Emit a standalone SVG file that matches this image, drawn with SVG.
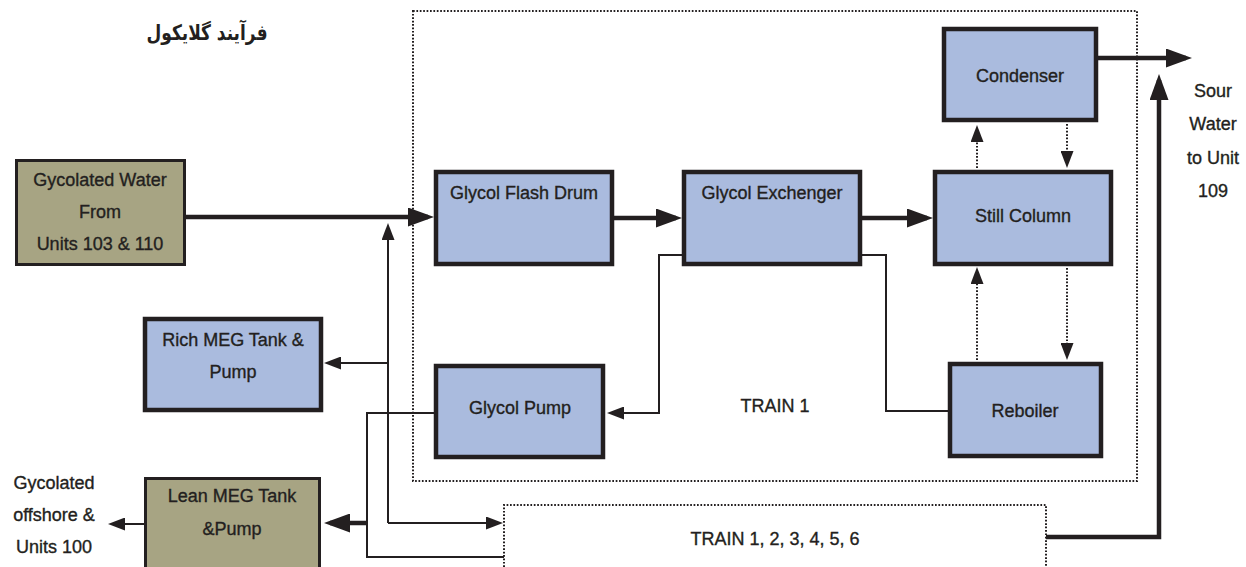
<svg xmlns="http://www.w3.org/2000/svg" width="1246" height="567" viewBox="0 0 1246 567">
<style>
.t{font-family:"Liberation Sans",Arial,sans-serif;font-size:18px;fill:#231f20;text-anchor:middle;stroke:#231f20;stroke-width:0.35}
.fa{font-family:"DejaVu Sans","Noto Sans",sans-serif;font-size:17px;font-weight:bold;fill:#231f20;text-anchor:middle}
.blue{fill:#aabbde;stroke:#231f20;stroke-width:4.5}
.olive{fill:#a7a483;stroke:#231f20;stroke-width:3}
.thick{fill:none;stroke:#231f20;stroke-width:4.5}
.thin{fill:none;stroke:#231f20;stroke-width:2}
.dot{fill:none;stroke:#231f20;stroke-width:2;stroke-dasharray:1.7 1.7}
</style>
<defs>
<marker id="ah" markerUnits="userSpaceOnUse" viewBox="0 0 26 19" markerWidth="26" markerHeight="19" refX="20" refY="9.5" orient="auto">
<path d="M0,0 L26,9.5 L0,19 z" fill="#231f20"/>
</marker>
<marker id="as" markerUnits="userSpaceOnUse" viewBox="0 0 17 13" markerWidth="17" markerHeight="13" refX="14" refY="6.5" orient="auto">
<path d="M0,0 L17,6.5 L0,13 z" fill="#231f20"/>
</marker>
</defs>

<text class="fa" transform="translate(207,40) scale(1,1.25)">فرآیند گلایکول</text>

<g id="train1-box">
<rect class="dot" x="413" y="11" width="724" height="470"/>
<text class="t" x="775" y="412">TRAIN 1</text>
</g>
<g id="trains-box">
<path class="dot" d="M504,567 V505 H1046 V567"/>
<text class="t" x="775" y="545">TRAIN 1, 2, 3, 4, 5, 6</text>
</g>

<g id="connectors">
<path class="thick" d="M186,217 H428" marker-end="url(#ah)"/>
<path class="thick" d="M614,218 H676" marker-end="url(#ah)"/>
<path class="thick" d="M862,218 H927" marker-end="url(#ah)"/>
<path class="thick" d="M1098,58 H1186" marker-end="url(#ah)"/>
<path class="thick" d="M1046,537 H1159 V80" marker-end="url(#ah)"/>
<path class="thick" d="M367,523 H330" marker-end="url(#ah)"/>
<path class="thin" d="M682,255 H659 V413 H610" marker-end="url(#as)"/>
<path class="thin" d="M862,255 H886 V411 H948"/>
<path class="thin" d="M434,413 H367 V557 H504"/>
<path class="thin" d="M388,523 V226" marker-end="url(#as)"/>
<path class="thin" d="M388,523 H500" marker-end="url(#as)"/>
<path class="thin" d="M388,363 H327" marker-end="url(#as)"/>
<path class="thin" d="M144,524 H111" marker-end="url(#as)"/>
<path class="dot" d="M977,168 V128" marker-end="url(#as)"/>
<path class="dot" d="M1067,124 V165" marker-end="url(#as)"/>
<path class="dot" d="M977,360 V270" marker-end="url(#as)"/>
<path class="dot" d="M1067,268 V357" marker-end="url(#as)"/>
</g>

<g id="gycolated-water">
<rect class="olive" x="16.5" y="160.5" width="168" height="104"/>
<text class="t" x="100" y="186">Gycolated Water</text>
<text class="t" x="100" y="218">From</text>
<text class="t" x="100" y="250">Units 103 &amp; 110</text>
</g>
<g id="rich-meg">
<rect class="blue" x="145" y="319" width="176" height="91"/>
<text class="t" x="233" y="346">Rich MEG Tank &amp;</text>
<text class="t" x="233" y="378">Pump</text>
</g>
<g id="lean-meg">
<rect class="olive" x="145.5" y="478.5" width="174" height="100"/>
<text class="t" x="232" y="502">Lean MEG Tank</text>
<text class="t" x="232" y="535">&amp;Pump</text>
</g>
<g id="gycolated-offshore">
<text class="t" x="54" y="489">Gycolated</text>
<text class="t" x="54" y="521">offshore &amp;</text>
<text class="t" x="54" y="553">Units 100</text>
</g>
<g id="flash-drum">
<rect class="blue" x="436" y="172" width="176" height="92"/>
<text class="t" x="524" y="199">Glycol Flash Drum</text>
</g>
<g id="exchenger">
<rect class="blue" x="684" y="172" width="176" height="92"/>
<text class="t" x="772" y="199">Glycol Exchenger</text>
</g>
<g id="glycol-pump">
<rect class="blue" x="436" y="366" width="167" height="91"/>
<text class="t" x="520" y="414">Glycol Pump</text>
</g>
<g id="condenser">
<rect class="blue" x="944" y="29" width="152" height="91"/>
<text class="t" x="1020" y="82">Condenser</text>
</g>
<g id="still-column">
<rect class="blue" x="935" y="172" width="176" height="92"/>
<text class="t" x="1023" y="222">Still Column</text>
</g>
<g id="reboiler">
<rect class="blue" x="950" y="364" width="151" height="92"/>
<text class="t" x="1025" y="417">Reboiler</text>
</g>
<g id="sour-water">
<text class="t" x="1213" y="97">Sour</text>
<text class="t" x="1213" y="130">Water</text>
<text class="t" x="1213" y="164">to Unit</text>
<text class="t" x="1213" y="197">109</text>
</g>
</svg>
